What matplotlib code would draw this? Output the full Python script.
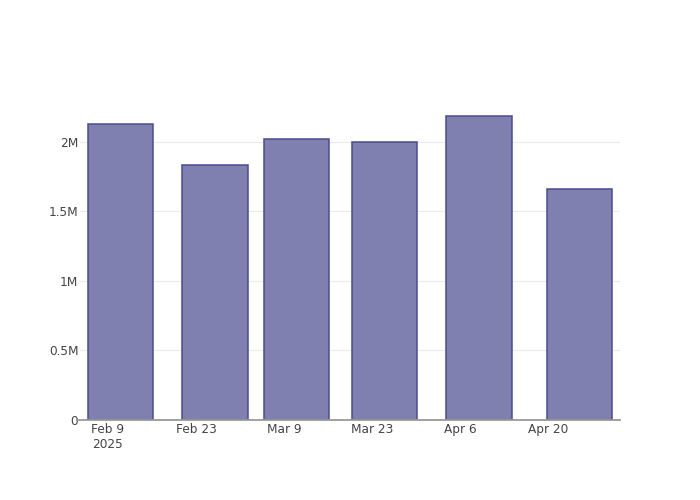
import matplotlib
matplotlib.use("Agg")
import matplotlib.pyplot as plt
import matplotlib.dates as mdates
from datetime import datetime

dates = ["2025-02-11", "2025-02-26", "2025-03-11", "2025-03-25", "2025-04-09", "2025-04-25"]
values = [2127000, 1832000, 2024000, 2002000, 2187000, 1664000]
tick_dates = ["2025-02-09", "2025-02-23", "2025-03-09", "2025-03-23", "2025-04-06", "2025-04-20"]
tick_labels = ["Feb 9\n2025", "Feb 23", "Mar 9", "Mar 23", "Apr 6", "Apr 20"]
y_ticks = [0, 500000, 1000000, 1500000, 2000000]
y_labels = ["0", "0.5M", "1M", "1.5M", "2M"]

plt.rcParams['font.family'] = ['DejaVu Sans']

fig = plt.figure(figsize=(7, 5), dpi=100)
ax = fig.add_axes([80/700, 80/500, 540/700, 320/500])

x = mdates.date2num([datetime.strptime(d, "%Y-%m-%d") for d in dates])
width = 13 * 0.8
ax.bar(x, values, width=width, color='#7f7fb0', edgecolor='#4b4b8d', linewidth=1.1, zorder=3)

t0 = mdates.date2num(datetime(2025, 2, 9))
ax.set_xlim(t0 - 4.45, t0 + 81.45)
ax.set_ylim(0, 2302000)

tx = mdates.date2num([datetime.strptime(d, "%Y-%m-%d") for d in tick_dates])
ax.set_xticks(tx)
ax.set_xticklabels(tick_labels, ha='center', va='top', linespacing=1.2)
ax.set_yticks(y_ticks)
ax.set_yticklabels(y_labels)

ax.tick_params(axis='x', length=0, pad=2.5, labelsize=8.7, colors='#444444')
ax.tick_params(axis='y', length=0, pad=1.2, labelsize=8.7, colors='#444444')

ax.grid(axis='y', color='#ebebeb', linewidth=0.8, zorder=0)
for s in ax.spines.values():
    s.set_visible(False)
ax.axhline(0, color='#999999', linewidth=1.3, zorder=4, xmin=-0.005, clip_on=False)

fig.savefig("out.png", dpi=100)
